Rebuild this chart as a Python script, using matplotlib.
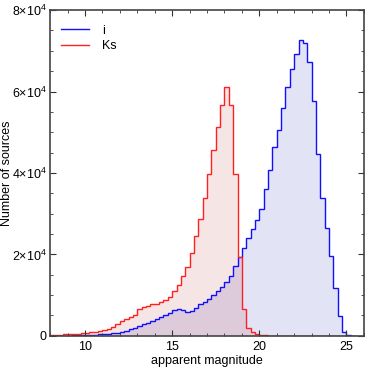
import numpy as np
import matplotlib
matplotlib.use('Agg')
import matplotlib.pyplot as plt
from matplotlib.ticker import MultipleLocator, FuncFormatter

plt.rcParams['font.family'] = ['Liberation Sans', 'DejaVu Sans']
plt.rcParams['mathtext.fontset'] = 'custom'
plt.rcParams['mathtext.rm'] = 'Liberation Sans'
plt.rcParams['mathtext.it'] = 'Liberation Sans'

# bin edges (apparent magnitude, 0.25 mag bins starting at 8)
bin_start = 8.0
bin_width = 0.25

# counts per bin, i band
counts_i = [30, 40, 50, 60, 80, 100, 120, 150,
            200, 250, 320, 400, 480, 570, 680, 800,
            1050, 1300, 1650, 2050, 2450, 2850, 3250, 3700,
            4150, 4700, 5150, 5700, 6300, 6500, 6400, 5900,
            6130, 6950, 7700, 8300, 9100, 10100, 11000, 12000,
            13200, 14800, 17250, 19300, 21670, 24150, 26300, 28350,
            31100, 36100, 40700, 46400, 50600, 56000, 61000, 65500,
            69100, 72700, 71900, 67200, 57700, 44700, 33800, 26400,
            19500, 11700, 4900, 1060, 250, 0]

# counts per bin, Ks band
counts_ks = [200, 250, 300, 350, 400, 450, 550, 650,
             750, 850, 1000, 1200, 1450, 1750, 2200, 2800,
             3600, 4100, 4700, 5150, 6600, 7000, 7400, 7700,
             7900, 8200, 8900, 9650, 11000, 12600, 14600, 17000,
             20300, 24400, 28600, 33800, 39700, 45600, 51200, 56600,
             61000, 56600, 39800, 19300, 6600, 1900, 900, 500,
             250, 150, 80, 40, 0, 0, 0, 0,
             0, 0, 0, 0, 0, 0, 0, 0,
             0, 0, 0, 0, 0, 0]

edges = bin_start + bin_width * np.arange(len(counts_i) + 1)

fig = plt.figure(figsize=(3.74, 3.74), dpi=100)
ax = fig.add_axes([0.134, 0.102, 0.839, 0.871])

# fills first, then outlines
ax.stairs(counts_i, edges, fill=True, color='#0000b0', alpha=0.11, lw=0)
ax.stairs(counts_ks, edges, fill=True, color='#b00000', alpha=0.1, lw=0)
ax.stairs(counts_i, edges, color='#1010ff', lw=1.0, label='i')
ax.stairs(counts_ks, edges, color='#ff2020', lw=1.0, label='Ks')

ax.set_xlim(8, 26)
ax.set_ylim(0, 8e4)

ax.xaxis.set_major_locator(MultipleLocator(5))
ax.xaxis.set_minor_locator(MultipleLocator(1))
ax.yaxis.set_major_locator(MultipleLocator(2e4))
ax.yaxis.set_minor_locator(MultipleLocator(5e3))


def sci_fmt(v, pos):
    if v == 0:
        return '0'
    return '%d×10$^{4}$' % round(v / 1e4)


ax.yaxis.set_major_formatter(FuncFormatter(sci_fmt))
ax.tick_params(which='both', direction='in', top=True, right=True,
               labelsize=9, color='#333333')
ax.tick_params(axis='y', pad=2.5)
ax.tick_params(axis='x', pad=3.5)
ax.tick_params(which='major', length=4, width=0.8)
ax.tick_params(which='minor', length=2.5, width=0.6)
for s in ax.spines.values():
    s.set_color('#444444')
    s.set_linewidth(1.2)

ax.set_xlabel('apparent magnitude', fontsize=9)
ax.set_ylabel('Number of sources', fontsize=9)
ax.xaxis.set_label_coords(0.5, -0.06)
ax.yaxis.set_label_coords(-0.118, 0.5)

ax.legend(loc='upper left', bbox_to_anchor=(0.035, 0.955), frameon=False,
          fontsize=9, handlelength=2.2, handletextpad=1.1, borderaxespad=0,
          borderpad=0, labelspacing=0.25)

fig.savefig('out.png', dpi=100)
